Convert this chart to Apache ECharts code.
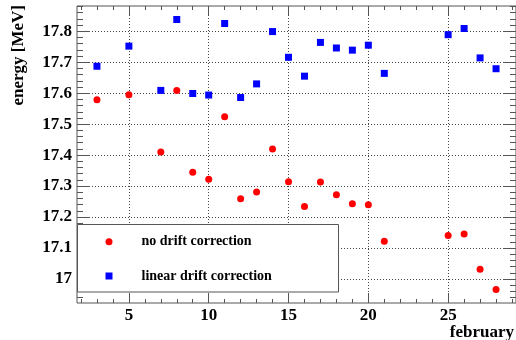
<!DOCTYPE html>
<html>
<head>
<meta charset="utf-8">
<script src="https://cdn.jsdelivr.net/npm/echarts@6/dist/echarts.min.js"></script>
<style>
  html, body { margin: 0; padding: 0; background: #fff; }
  #chart { width: 516px; height: 340px; }
</style>
</head>
<body>
<div id="chart"></div>
<script>
// Measurement days in February
const days = [3, 5, 7, 8, 9, 10, 11, 12, 13, 14, 15, 16, 17, 18, 19, 20, 21, 25, 26, 27, 28];

// Peak energy [MeV] without drift correction
const noDrift = [17.579, 17.595, 17.410, 17.609, 17.345, 17.322, 17.524, 17.259, 17.281, 17.420,
                 17.314, 17.234, 17.313, 17.272, 17.243, 17.240, 17.122, 17.140, 17.145, 17.031, 16.966];

// Peak energy [MeV] after linear drift correction
const linearDrift = [17.687, 17.752, 17.609, 17.838, 17.599, 17.594, 17.825, 17.586, 17.630, 17.799,
                     17.716, 17.655, 17.764, 17.746, 17.739, 17.755, 17.664, 17.789, 17.809, 17.714, 17.679];

const seriesNames = ['no drift correction', 'linear drift correction'];

// Axis ticks and labels
const xTicks = [5, 10, 15, 20, 25];
const yTicks = [17, 17.1, 17.2, 17.3, 17.4, 17.5, 17.6, 17.7, 17.8];
const xRange = [1.75, 29.25];
const yRange = [16.9224, 17.8816];

const xMinor = [];
for (let v = 2; v <= 29; v++) xMinor.push(v);
const yMinor = [];
for (let k = 0; k <= 47; k++) yMinor.push(+(16.94 + k * 0.02).toFixed(2));

const serif = '"Liberation Serif", "Times New Roman", serif';
const frameColor = '#555';

function tickAxis(position, values, len, extra) {
  return Object.assign({
    type: 'value',
    position: position,
    min: null, max: null,
    axisLine: { show: false, onZero: false },
    axisTick: { show: true, inside: true, length: len, customValues: values,
                lineStyle: { color: frameColor, width: 1 } },
    axisLabel: { show: false },
    splitLine: { show: false }
  }, extra || {});
}

function xAx(position, values, len, extra) {
  const a = tickAxis(position, values, len, extra);
  a.min = xRange[0]; a.max = xRange[1];
  return a;
}
function yAx(position, values, len, extra) {
  const a = tickAxis(position, values, len, extra);
  a.min = yRange[0]; a.max = yRange[1];
  return a;
}

const labelStyle = { color: '#000', fontFamily: serif, fontWeight: 'bold', fontSize: 17 };
const gridDots = { show: true, lineStyle: { color: '#444', width: 1, type: [1, 2] } };

const chart = echarts.init(document.getElementById('chart'), null, { renderer: 'canvas' });

chart.setOption({
  animation: false,
  backgroundColor: '#fff',
  grid: {
    left: 77, top: 6, width: 440, height: 297,
    show: true, borderColor: frameColor, borderWidth: 1, backgroundColor: 'transparent'
  },
  xAxis: [
    xAx('bottom', xTicks, 10, {
      axisLabel: Object.assign({ show: true, margin: 4, customValues: xTicks }, labelStyle),
      splitLine: Object.assign({}, gridDots)
    }),
    xAx('bottom', xMinor, 4),
    xAx('top', xTicks, 9),
    xAx('top', xMinor, 4)
  ],
  yAxis: [
    yAx('left', yTicks, 13, {
      axisLabel: Object.assign({
        show: true, margin: 5, customValues: yTicks,
        formatter: function (v) { return String(+(+v).toFixed(2)); }
      }, labelStyle),
      splitLine: Object.assign({}, gridDots)
    }),
    yAx('left', yMinor, 6),
    yAx('right', yTicks, 13),
    yAx('right', yMinor, 6)
  ],
  legend: {
    orient: 'vertical',
    left: 105.5, top: 233.7,
    itemWidth: 7, itemHeight: 7, itemGap: 18.3,
    padding: 0,
    z: 11,
    data: seriesNames,
    itemStyle: { opacity: 1 },
    textStyle: {
      color: '#000', fontFamily: serif, fontWeight: 'bold', fontSize: 14,
      lineHeight: 16, padding: [0, 0, 0, 24]
    }
  },
  graphic: [
    {
      type: 'rect', z: 10,
      shape: { x: 77.5, y: 224.5, width: 261, height: 67.5 },
      style: { fill: '#fff', stroke: frameColor, lineWidth: 1 }
    },
    {
      type: 'text', z: 10,
      x: 18.5, y: 5, rotation: Math.PI / 2,
      style: { text: 'energy [MeV]', font: 'bold 17px ' + serif, fill: '#000',
               align: 'right', verticalAlign: 'middle' }
    },
    {
      type: 'text', z: 10,
      x: 514, y: 332.5,
      style: { text: 'february', font: 'bold 17px ' + serif, fill: '#000',
               align: 'right', verticalAlign: 'middle' }
    }
  ],
  series: [
    {
      name: seriesNames[0], type: 'scatter', symbol: 'circle', symbolSize: 7,
      itemStyle: { color: '#ff0000', opacity: 1 },
      data: days.map((d, i) => [d, noDrift[i]])
    },
    {
      name: seriesNames[1], type: 'scatter', symbol: 'rect', symbolSize: 7,
      itemStyle: { color: '#0000ff', opacity: 1 },
      data: days.map((d, i) => [d, linearDrift[i]])
    }
  ]
});
</script>
</body>
</html>
